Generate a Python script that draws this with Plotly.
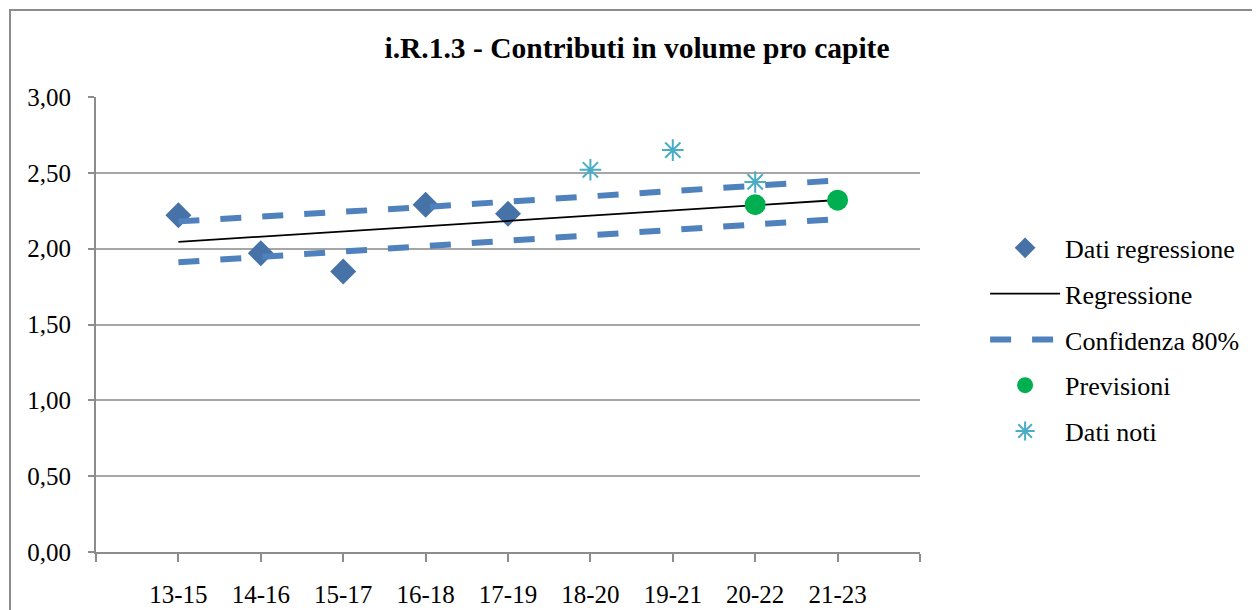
import plotly.graph_objects as go

periods = ["13-15", "14-16", "15-17", "16-18", "17-19", "18-20", "19-21", "20-22", "21-23"]
pos = [1, 2, 3, 4, 5, 6, 7, 8, 9]

# dati regressione (13-15 .. 17-19)
reg_data = [2.22, 1.97, 1.85, 2.29, 2.23]
# retta di regressione e banda di confidenza 80%
regression = [2.045, 2.08, 2.114, 2.149, 2.183, 2.218, 2.252, 2.287, 2.321]
conf_up = [2.18, 2.21, 2.24, 2.275, 2.31, 2.345, 2.38, 2.415, 2.45]
conf_low = [1.91, 1.945, 1.98, 2.015, 2.05, 2.085, 2.12, 2.16, 2.195]
# dati noti (18-20 .. 20-22)
known = [2.52, 2.65, 2.44]
# previsioni (20-22, 21-23)
forecast = [2.29, 2.32]

fnt = "Liberation Serif, Times New Roman, serif"
blue = "#4F81BD"

fig = go.Figure()
fig.add_trace(go.Scatter(
    x=pos[:5], y=reg_data, mode="markers", name="Dati regressione",
    marker=dict(symbol="diamond", size=20, color="#4672A8"),
    legendgroup="a"))
fig.add_trace(go.Scatter(
    x=pos, y=regression, mode="lines", name="Regressione",
    line=dict(color="black", width=1.8), legendgroup="b"))
fig.add_trace(go.Scatter(
    x=pos, y=conf_up, mode="lines", name="Confidenza 80%",
    line=dict(color=blue, width=6, dash="21px,21px"), legendgroup="c"))
fig.add_trace(go.Scatter(
    x=pos, y=conf_low, mode="lines", name="Confidenza 80%", showlegend=False,
    line=dict(color=blue, width=6, dash="21px,21px"), legendgroup="c"))
fig.add_trace(go.Scatter(
    x=pos[7:], y=forecast, mode="markers", name="Previsioni",
    marker=dict(symbol="circle", size=21, color="#00B050"), legendgroup="d"))
fig.add_trace(go.Scatter(
    x=pos[5:8], y=known, mode="markers", name="Dati noti",
    marker=dict(symbol="asterisk-open", size=18, color="#4BACC6",
                line=dict(color="#4BACC6", width=2)), legendgroup="e"))

# la pagina aggiunge 8px di margine: i margini ne tengono conto
fig.update_layout(
    width=1260, height=610,
    margin=dict(l=88, r=348, t=89, b=66),
    paper_bgcolor="white", plot_bgcolor="white",
    separators=",.",
    font=dict(family=fnt, size=25, color="black"),
    title=dict(text="<b>i.R.1.3 - Contributi in volume pro capite</b>",
               x=629 / 1260, xanchor="center", y=1 - 40 / 610, yanchor="middle",
               font=dict(family=fnt, size=29.5, color="black")),
    legend=dict(x=1.079, y=0.72, xanchor="left", yanchor="top",
                font=dict(family=fnt, size=26, color="black"),
                itemwidth=70, tracegroupgap=9, bgcolor="rgba(0,0,0,0)"),
    showlegend=True,
)
fig.update_xaxes(
    range=[0, 10], tickmode="array", tickvals=list(range(0, 11)),
    ticktext=[""] + periods + [""], automargin=False,
    showgrid=False, zeroline=False, showline=True, linecolor="#8C8C8C", linewidth=2,
    ticks="outside", ticklen=8, tickcolor="#8C8C8C", tickwidth=2,
    tickfont=dict(family=fnt, size=25, color="black"), ticklabelstandoff=11)
fig.update_yaxes(
    range=[0, 3], dtick=0.5, tickformat=".2f", automargin=False,
    showgrid=True, gridcolor="#A6A6A6", gridwidth=2, zeroline=False,
    showline=True, linecolor="#8C8C8C", linewidth=2,
    ticks="outside", ticklen=6, tickcolor="#8C8C8C", tickwidth=2,
    tickfont=dict(family=fnt, size=25, color="black"), ticklabelstandoff=12)

# cornice esterna del grafico
fig.add_shape(type="rect", xref="paper", yref="paper",
              x0=(2 - 88) / 824, x1=1.6, y0=-0.3, y1=(544 - 2) / 455,
              line=dict(color="#8C8C8C", width=2), fillcolor="rgba(0,0,0,0)",
              layer="below")

fig.write_html("out.html")
